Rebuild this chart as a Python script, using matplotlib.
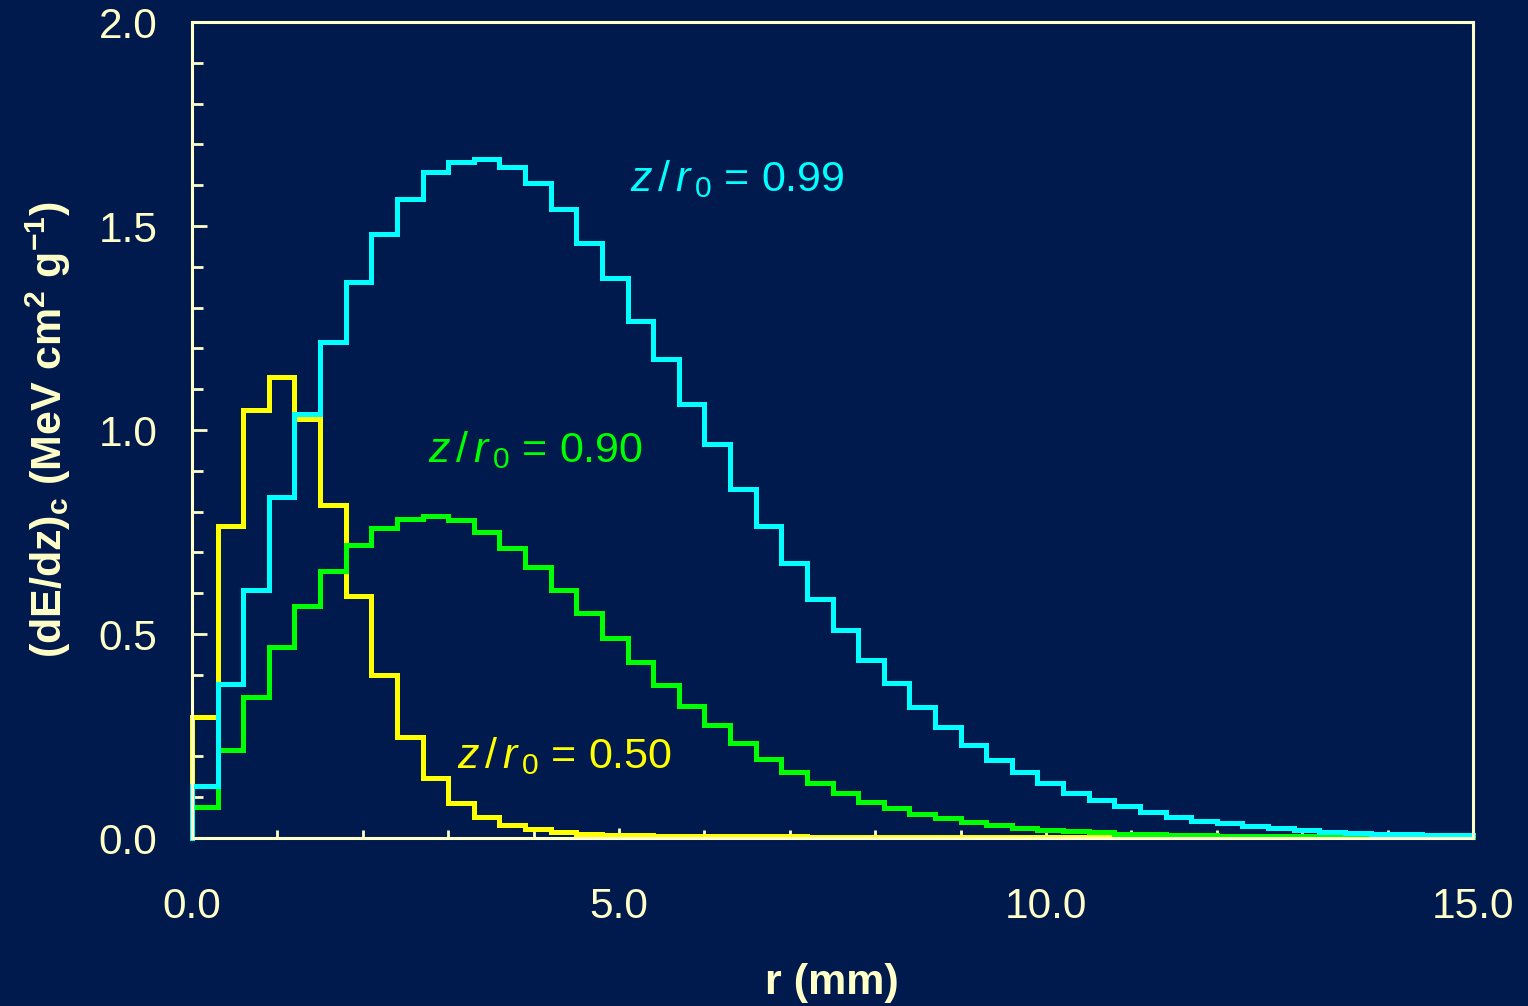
import matplotlib
matplotlib.use("Agg")
import matplotlib.pyplot as plt
import numpy as np

BG = "#001a4d"
FG = "#ffffc8"

bin_width = 0.3  # mm

# dose per 0.3 mm radial bin
yellow_050 = [0.296, 0.765, 1.049, 1.131, 1.026, 0.816, 0.594, 0.400, 0.248, 0.146,
              0.087, 0.052, 0.032, 0.021, 0.015, 0.011, 0.008, 0.007, 0.006, 0.005,
              0.005, 0.004, 0.004, 0.004, 0.003, 0.003, 0.003, 0.003, 0.002, 0.002,
              0.002, 0.002, 0.002, 0.002, 0.002, 0.002, 0.002]
green_090 = [0.077, 0.216, 0.346, 0.467, 0.569, 0.654, 0.718, 0.761, 0.783, 0.790,
             0.779, 0.750, 0.712, 0.664, 0.608, 0.551, 0.491, 0.432, 0.375, 0.324,
             0.276, 0.232, 0.194, 0.161, 0.134, 0.110, 0.089, 0.073, 0.060, 0.048,
             0.040, 0.032, 0.025, 0.020, 0.016, 0.014, 0.011, 0.009, 0.008, 0.007,
             0.006, 0.006, 0.005, 0.005, 0.004, 0.004, 0.004, 0.003, 0.003, 0.003]
cyan_099 = [0.127, 0.377, 0.608, 0.837, 1.038, 1.216, 1.363, 1.480, 1.567, 1.632,
            1.657, 1.663, 1.645, 1.606, 1.542, 1.459, 1.373, 1.267, 1.174, 1.063,
            0.966, 0.856, 0.764, 0.673, 0.586, 0.510, 0.437, 0.379, 0.320, 0.271,
            0.228, 0.191, 0.161, 0.136, 0.111, 0.093, 0.079, 0.064, 0.052, 0.042,
            0.037, 0.030, 0.025, 0.020, 0.015, 0.013, 0.011, 0.010, 0.008, 0.007]

series = [
    (yellow_050, "#ffff00", "0.50", (3.10, 0.20)),
    (green_090, "#00ff00", "0.90", (2.76, 0.95)),
    (cyan_099, "#00ffff", "0.99", (5.13, 1.615)),
]

plt.rcParams["font.family"] = ["Liberation Sans", "DejaVu Sans"]
plt.rcParams["mathtext.fontset"] = "custom"
plt.rcParams["mathtext.rm"] = "Liberation Sans"
plt.rcParams["mathtext.it"] = "Liberation Sans:italic"
plt.rcParams["mathtext.bf"] = "Liberation Sans:bold"

fig = plt.figure(figsize=(15.28, 10.06), dpi=100, facecolor=BG)
ax = fig.add_axes([192 / 1528, 1 - 838 / 1006, (1473 - 192) / 1528, (838 - 22) / 1006])
ax.set_facecolor(BG)

for vals, color, lab, (tx, ty) in series:
    vals = np.asarray(vals)
    edges = np.arange(len(vals) + 1) * bin_width
    # start at zero on the axis, then step through each bin
    xs = np.concatenate([[0.0], edges])
    ys = np.concatenate([[0.0], vals, [vals[-1]]])
    ax.plot(xs, ys, drawstyle="steps-post", color=color, lw=3.6,
            solid_joinstyle="miter", clip_on=False)
    ax.text(tx, ty, r"$z\,/\,r_{\,\mathrm{0}}$ = " + lab,
            color=color, fontsize=31, va="center", ha="left")

ax.set_xlim(0, 15)
ax.set_ylim(0, 2.0)
ax.set_xticks([0, 5, 10, 15])
ax.set_xticks(np.arange(0, 16, 1), minor=True)
ax.set_xticklabels(["0.0", "5.0", "10.0", "15.0"])
ax.set_yticks([0, 0.5, 1.0, 1.5, 2.0])
ax.set_yticks(np.arange(0, 2.01, 0.1), minor=True)
ax.set_yticklabels(["0.0", "0.5", "1.0", "1.5", "2.0"])

ax.tick_params(axis="both", which="both", direction="in", colors=FG,
               labelsize=30.5, width=2)
ax.tick_params(axis="x", which="major", length=7, pad=35)
ax.tick_params(axis="x", which="minor", length=6)
ax.tick_params(axis="y", which="major", length=11, pad=25)
ax.tick_params(axis="y", which="minor", length=8)

for sp in ax.spines.values():
    sp.set_color(FG)
    sp.set_linewidth(2.2)

fig.text(832 / 1528, 1 - 983 / 1006, "r (mm)", color=FG, fontsize=31,
         fontweight="bold", ha="center", va="center")
fig.text(48 / 1528, 1 - 430 / 1006,
         r"(dE/dz)$_\mathbf{c}$ (MeV cm$^\mathbf{2}$ g$^\mathbf{-1}$)",
         color=FG, fontsize=31, fontweight="bold", rotation=90,
         ha="center", va="center")

fig.savefig("out.png", dpi=100, facecolor=BG)
